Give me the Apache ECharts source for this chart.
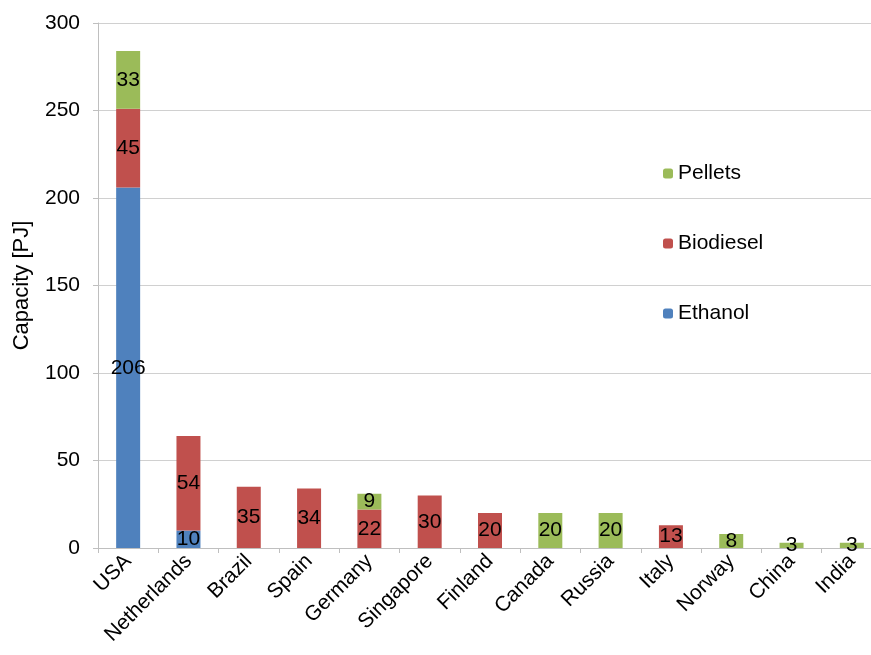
<!DOCTYPE html>
<html>
<head>
<meta charset="utf-8">
<script src="https://cdn.jsdelivr.net/npm/echarts@6/dist/echarts.min.js"></script>
<style>
  html, body { margin: 0; padding: 0; background: #fff; }
  #main { width: 871px; height: 655px; }
</style>
</head>
<body>
<div id="main"></div>
<script>
// data
var countries = ['USA', 'Netherlands', 'Brazil', 'Spain', 'Germany', 'Singapore', 'Finland', 'Canada', 'Russia', 'Italy', 'Norway', 'China', 'India'];
var ethanol   = [206, 10, 0, 0, 0, 0, 0, 0, 0, 0, 0, 0, 0];
var biodiesel = [45, 54, 35, 34, 22, 30, 20, 0, 0, 13, 0, 0, 0];
var pellets   = [33, 0, 0, 0, 9, 0, 0, 20, 20, 0, 8, 3, 3];

var chart = echarts.init(document.getElementById('main'));

// label only the non-empty segments
function segLabel() {
  return {
    show: true,
    position: 'inside',
    color: '#000',
    fontSize: 21,
    fontFamily: 'Liberation Sans',
    formatter: function (p) { return p.value ? p.value : ''; }
  };
}

var option = {
  backgroundColor: '#ffffff',
  animation: false,
  textStyle: { fontFamily: 'Liberation Sans' },
  legend: {
    data: ['Pellets', 'Biodiesel', 'Ethanol'],
    orient: 'vertical',
    left: 658,
    top: 158,
    itemWidth: 10,
    itemHeight: 10,
    itemGap: 49,
    textStyle: { fontSize: 21, color: '#000', fontFamily: 'Liberation Sans' }
  },
  // plot runs a little past the right edge, as in the reference crop
  grid: { left: 98, width: 784, top: 23, bottom: 107, outerBoundsMode: 'none', containLabel: false },
  xAxis: {
    type: 'category',
    data: countries,
    axisLine: { lineStyle: { color: '#BFBFBF' } },
    axisTick: { show: true, length: 5, lineStyle: { color: '#BFBFBF' } },
    axisLabel: { rotate: 45, fontSize: 21, color: '#000', margin: 10, interval: 0 }
  },
  yAxis: {
    type: 'value',
    min: 0,
    max: 300,
    interval: 50,
    name: 'Capacity [PJ]',
    nameLocation: 'middle',
    nameGap: 65,
    nameTextStyle: { fontSize: 22, color: '#000' },
    axisLine: { show: true, lineStyle: { color: '#BFBFBF' } },
    axisTick: { show: true, length: 5, lineStyle: { color: '#BFBFBF' } },
    axisLabel: { fontSize: 21, color: '#000', margin: 18 },
    splitLine: { lineStyle: { color: '#D0D0D0' } }
  },
  series: [
    { name: 'Ethanol', type: 'bar', stack: 'cap', barWidth: 24, data: ethanol,
      itemStyle: { color: '#4F81BD' }, label: segLabel() },
    { name: 'Biodiesel', type: 'bar', stack: 'cap', barWidth: 24, data: biodiesel,
      itemStyle: { color: '#C0504D' }, label: segLabel() },
    { name: 'Pellets', type: 'bar', stack: 'cap', barWidth: 24, data: pellets,
      itemStyle: { color: '#9BBB59' }, label: segLabel() }
  ]
};
chart.setOption(option);
</script>
</body>
</html>
